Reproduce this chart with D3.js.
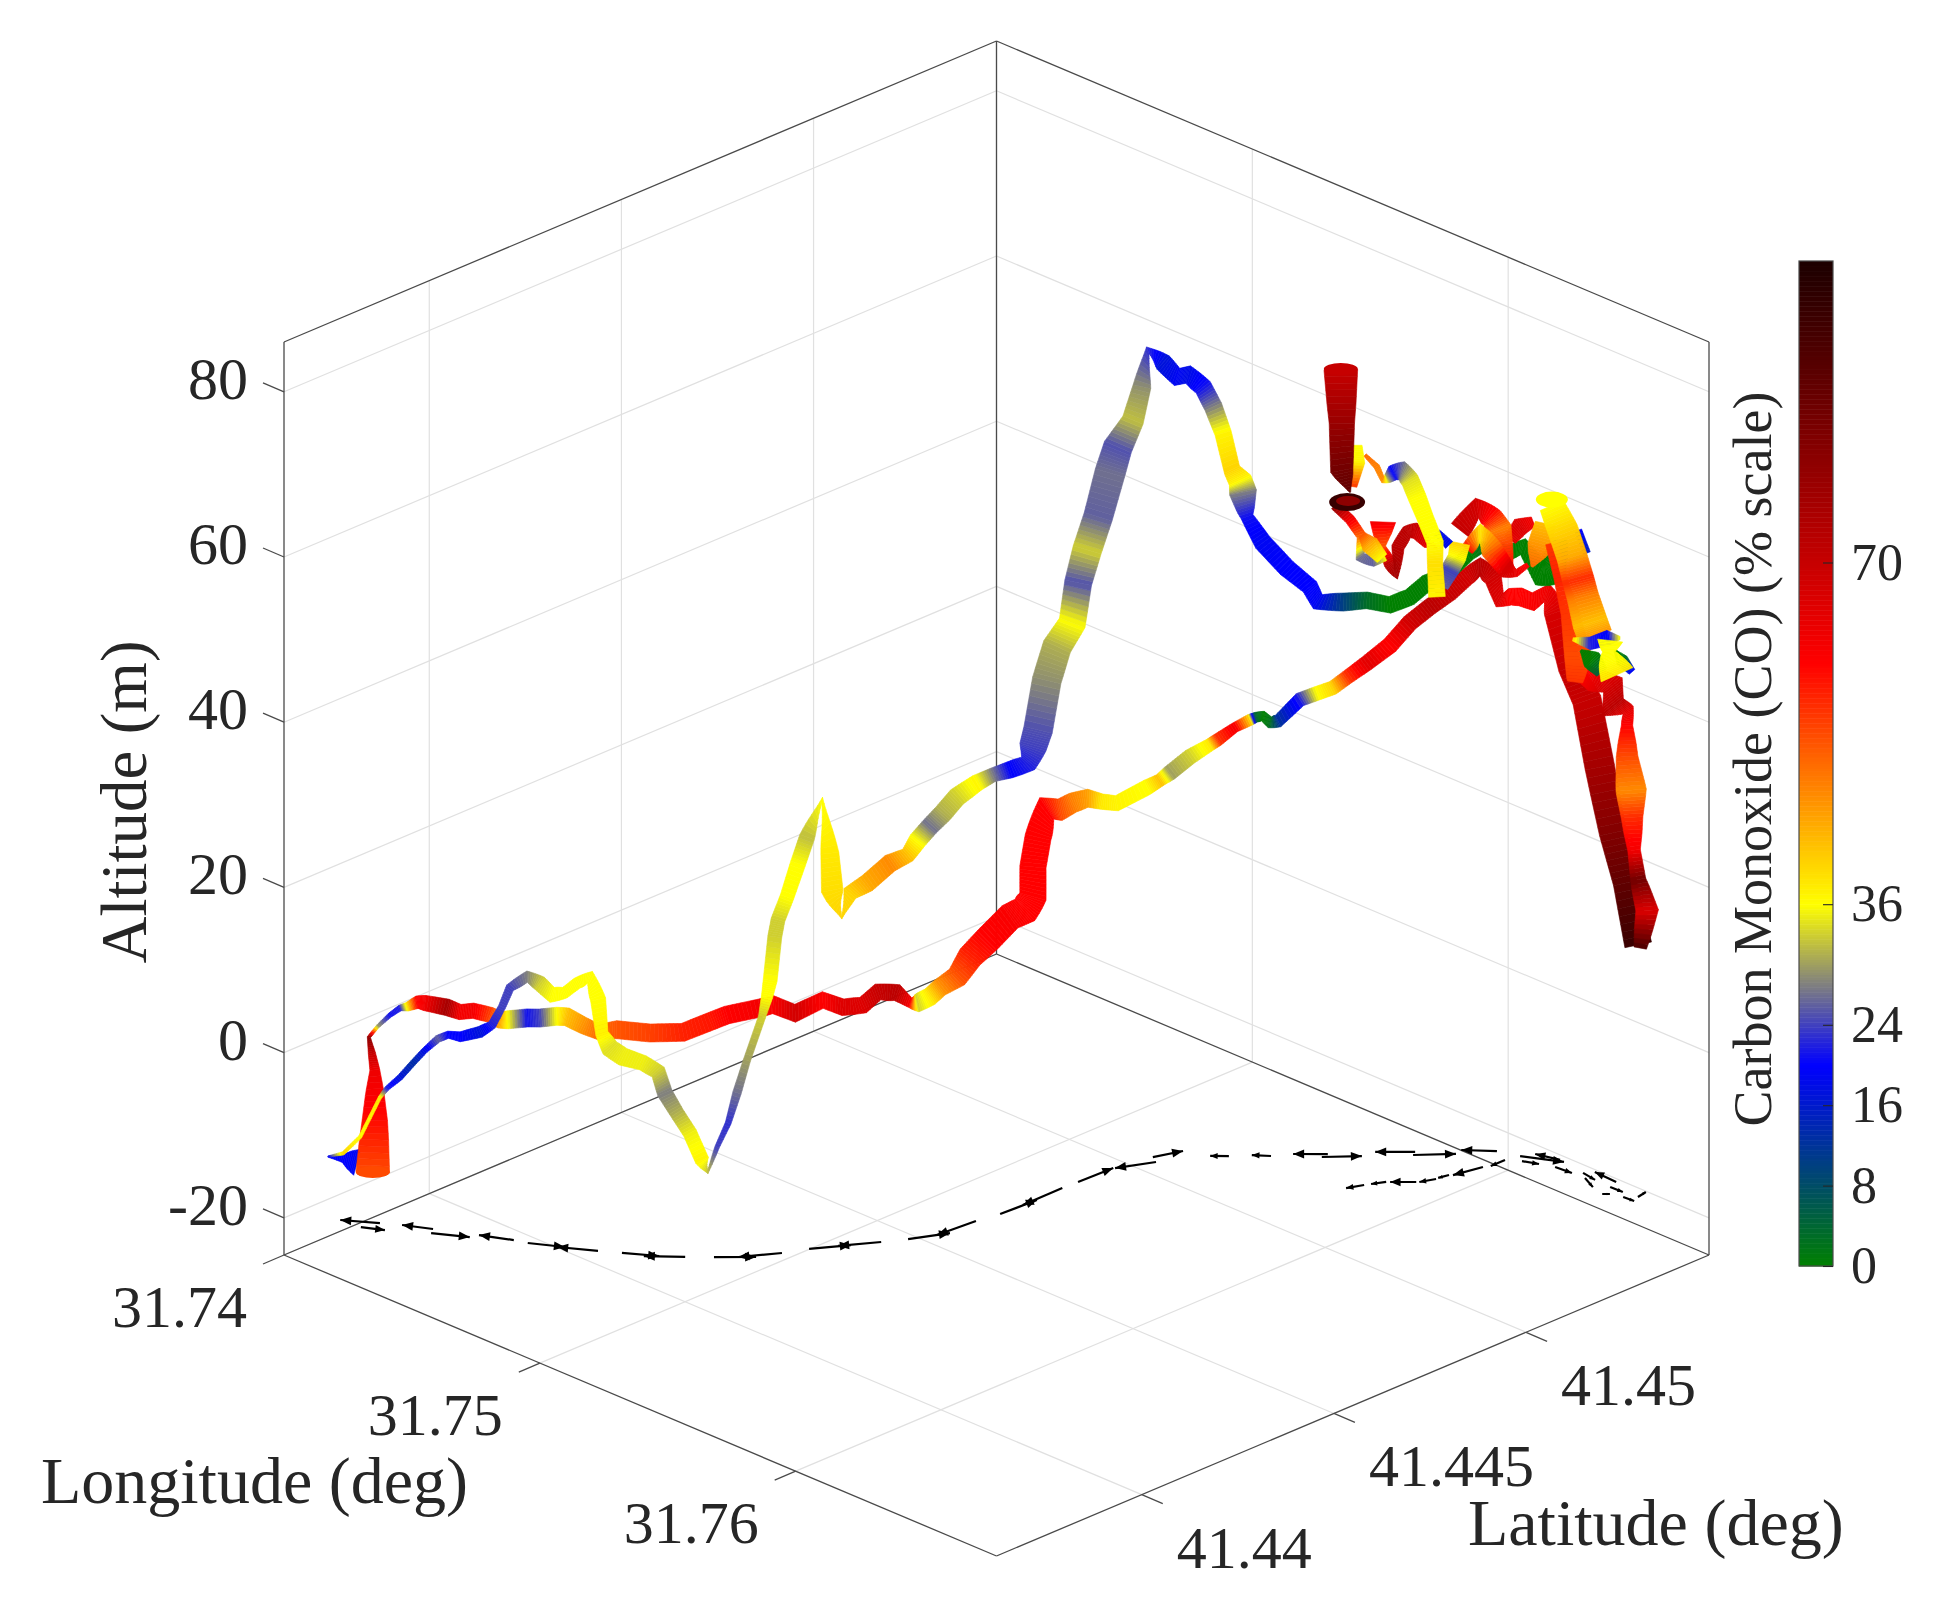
<!DOCTYPE html>
<html>
<head>
<meta charset="utf-8">
<script src="https://cdn.jsdelivr.net/npm/d3@7"></script>
<style>
body { margin: 0; background: #fff; }
text { font-family: "Liberation Serif", serif; fill: #262626; }
</style>
</head>
<body>
<svg id="vis" width="1945" height="1618"></svg>
<script>
// axis limits and ticks
var lonLimits = [31.74, 31.76785];
var latLimits = [41.43622, 41.45476];
var altLimits = [-24.5, 86.03];
var coLimits = [0, 100];
var lonTicks = [31.74, 31.75, 31.76];
var latTicks = [41.44, 41.445, 41.45];
var altTicks = [-20, 0, 20, 40, 60, 80];
var coTicks = [0, 8, 16, 24, 36, 70];

// colour map of the bar: value -> colour
var coStops = [0, 20, 36, 60, 100];
var coColors = ["#008000", "#0000ff", "#ffff00", "#ff0000", "#1c0000"];

// flight track, one line per leg
var legSizes = [3, 90, 13, 100, 2, 3, 6, 6, 4, 2, 9, 6, 3, 12, 3, 2, 3, 5, 7, 4, 3, 3, 4, 4];

var lon = [
31.73921,31.73955,31.73989,
31.74027,31.74032,31.74032,31.74025,31.74018,31.74039,31.74068,31.74093,31.74109,31.74134,31.74153,31.74212,31.74248,31.74283,31.74323,31.74347,31.74366,31.74414,31.74447,31.74491,31.74517,31.74557,31.74594,31.74640,31.74720,31.74789,31.74842,31.74875,31.74934,31.74952,31.74981,31.75020,31.75051,31.75080,31.75102,31.75127,31.75145,31.75153,31.75168,31.75180,31.75187,31.75193,31.75202,31.75211,31.75212,31.75212,31.75212,31.75211,31.75209,31.75207,31.75211,31.75212,31.75209,31.75223,31.75262,31.75273,31.75274,31.75296,31.75352,31.75367,31.75401,31.75430,31.75441,31.75453,31.75465,31.75479,31.75518,31.75553,31.75585,31.75614,31.75652,31.75691,31.75725,31.75763,31.75802,31.75835,31.75859,31.75883,31.75895,31.75927,31.75958,31.75991,31.76027,31.76050,31.76091,31.76150,31.76199,31.76253,31.76314,31.76385,
31.76396,31.76426,31.76385,31.76363,31.76352,31.76347,31.76325,31.76325,31.76331,31.76253,31.76253,31.76171,31.76136,
31.73921,31.73955,31.73996,31.74044,31.74061,31.74093,31.74124,31.74153,31.74187,31.74215,31.74248,31.74299,31.74328,31.74352,31.74371,31.74414,31.74447,31.74479,31.74512,31.74542,31.74574,31.74594,31.74604,31.74623,31.74655,31.74703,31.74737,31.74751,31.74776,31.74803,31.74826,31.74838,31.74856,31.74877,31.74895,31.74914,31.74937,31.74943,31.74948,31.74954,31.74959,31.74970,31.74985,31.74996,31.75019,31.75031,31.75034,31.75049,31.75061,31.75086,31.75118,31.75142,31.75154,31.75168,31.75182,31.75187,31.75196,31.75205,31.75211,31.75213,31.75212,31.75211,31.75209,31.75207,31.75211,31.75213,31.75212,31.75210,31.75214,31.75224,31.75244,31.75255,31.75263,31.75273,31.75275,31.75290,31.75332,31.75358,31.75377,31.75395,31.75410,31.75416,31.75424,31.75453,31.75495,31.75539,31.75555,31.75606,31.75652,31.75691,31.75725,31.75757,31.75802,31.75840,31.75859,31.75927,31.75965,31.76009,31.76042,31.76055,
31.76119,31.76150,
31.75927,31.75958,31.75991,
31.75822,31.75853,31.75881,31.75892,31.75905,31.75920,
31.75835,31.75859,31.75881,31.75917,31.75948,31.75978,
31.75904,31.75913,31.75920,31.75921,
31.75899,31.75912,
31.75814,31.75812,31.75827,31.75838,31.75841,31.75858,31.75873,31.75888,31.75899,
31.75757,31.75773,31.75783,31.75782,31.75795,31.75815,
31.75783,31.75790,31.75812,
31.75786,31.75802,31.75814,31.75823,31.75832,31.75849,31.75864,31.75877,31.75885,31.75896,31.75896,31.75899,
31.75779,31.75779,31.75776,
31.76060,31.76060,
31.76022,31.76009,31.75988,
31.76040,31.76060,31.76091,31.76119,31.76108,
31.76040,31.76068,31.76098,31.76119,31.76136,31.76161,31.76178,
31.76101,31.76161,31.76232,31.76287,
31.76129,31.76168,31.76207,
31.76261,31.76298,31.76352,
31.76241,31.76236,31.76245,31.76271,
31.75765,31.75766,31.75766,31.75773
];

var lat = [
41.43789,41.43806,41.43820,
41.43835,41.43837,41.43837,41.43834,41.43831,41.43840,41.43852,41.43862,41.43869,41.43879,41.43887,41.43905,41.43915,41.43926,41.43943,41.43953,41.43961,41.43979,41.43990,41.44005,41.44014,41.44029,41.44044,41.44062,41.44095,41.44135,41.44170,41.44192,41.44239,41.44261,41.44299,41.44345,41.44377,41.44410,41.44434,41.44467,41.44489,41.44502,41.44525,41.44543,41.44583,41.44613,41.44651,41.44705,41.44743,41.44764,41.44764,41.44778,41.44802,41.44838,41.44869,41.44907,41.44945,41.44975,41.45028,41.45054,41.45079,41.45117,41.45132,41.45142,41.45164,41.45184,41.45192,41.45202,41.45212,41.45224,41.45255,41.45276,41.45296,41.45314,41.45340,41.45374,41.45403,41.45430,41.45456,41.45479,41.45497,41.45515,41.45524,41.45530,41.45535,41.45547,41.45559,41.45567,41.45576,41.45581,41.45582,41.45580,41.45571,41.45558,
41.45556,41.45554,41.45558,41.45562,41.45564,41.45565,41.45569,41.45569,41.45568,41.45580,41.45580,41.45583,41.45580,
41.43789,41.43806,41.43823,41.43842,41.43849,41.43862,41.43875,41.43887,41.43898,41.43906,41.43915,41.43933,41.43945,41.43955,41.43963,41.43979,41.43990,41.44001,41.44012,41.44024,41.44036,41.44044,41.44047,41.44055,41.44068,41.44088,41.44105,41.44113,41.44128,41.44144,41.44160,41.44167,41.44179,41.44194,41.44205,41.44218,41.44242,41.44251,41.44256,41.44264,41.44269,41.44285,41.44304,41.44320,41.44344,41.44356,41.44360,41.44375,41.44388,41.44416,41.44455,41.44485,41.44503,41.44525,41.44550,41.44583,41.44629,41.44664,41.44705,41.44751,41.44764,41.44778,41.44802,41.44830,41.44867,41.44881,41.44905,41.44935,41.44963,41.44977,41.45003,41.45019,41.45029,41.45062,41.45097,41.45116,41.45127,41.45136,41.45149,41.45160,41.45171,41.45175,41.45180,41.45202,41.45236,41.45267,41.45277,41.45309,41.45340,41.45374,41.45403,41.45426,41.45456,41.45483,41.45497,41.45530,41.45538,41.45553,41.45564,41.45569,
41.45579,41.45581,
41.45530,41.45535,41.45547,
41.45469,41.45493,41.45513,41.45522,41.45526,41.45529,
41.45479,41.45497,41.45513,41.45528,41.45533,41.45542,
41.45368,41.45383,41.45396,41.45403,
41.45358,41.45381,
41.45274,41.45273,41.45284,41.45292,41.45295,41.45307,41.45318,41.45340,41.45358,
41.45187,41.45216,41.45240,41.45236,41.45261,41.45276,
41.45240,41.45256,41.45273,
41.45246,41.45266,41.45274,41.45281,41.45288,41.45300,41.45311,41.45321,41.45336,41.45355,41.45355,41.45358,
41.45230,41.45230,41.45222,
41.45571,41.45571,
41.45557,41.45553,41.45546,
41.45563,41.45571,41.45576,41.45579,41.45578,
41.45563,41.45573,41.45577,41.45579,41.45580,41.45582,41.45583,
41.45577,41.45582,41.45581,41.45576,
41.45579,41.45582,41.45582,
41.45580,41.45574,41.45564,
41.45581,41.45581,41.45581,41.45579,
41.45197,41.45199,41.45199,41.45216
];

var alt = [
-16.9,-17.0,-17.3,
-18.3,-12.0,-5.9,-3.9,-2.0,-0.6,0.9,1.9,2.1,2.8,2.8,2.7,2.4,2.8,2.5,2.0,2.1,2.6,2.8,3.3,3.4,2.6,2.0,2.5,2.5,2.7,4.0,4.8,5.5,5.7,4.3,5.5,4.4,4.4,5.8,5.4,4.0,3.8,4.3,5.2,5.8,7.7,9.1,11.0,11.1,12.3,15.9,19.2,22.2,21.3,21.6,21.4,20.2,19.6,21.0,21.5,21.9,23.4,25.3,25.9,27.4,28.3,28.6,28.7,27.9,28.0,30.5,31.3,32.0,33.3,35.0,37.0,39.6,41.5,43.2,45.1,46.3,44.9,42.2,42.9,43.2,42.8,44.1,41.9,35.6,32.3,24.8,17.6,12.5,6.2,
6.0,11.0,14.1,17.3,21.1,24.3,28.0,31.8,33.7,32.8,35.5,35.0,35.4,
-16.9,-16.4,-14.2,-9.2,-8.0,-6.5,-4.6,-2.9,-1.3,-0.6,-0.6,0.3,1.3,3.6,6.0,7.6,7.0,5.8,6.3,7.6,8.5,5.9,1.9,0.2,-0.7,-1.2,-2.2,-4.7,-7.1,-9.5,-12.8,-14.2,-11.2,-8.3,-4.6,-0.7,4.4,6.7,8.7,13.9,15.9,18.5,22.4,25.4,29.7,23.2,18.7,15.3,18.1,19.1,21.2,21.9,23.5,24.9,26.2,27.6,28.5,28.9,28.8,28.7,30.4,32.2,37.7,41.2,43.4,48.0,51.5,54.9,59.7,62.7,65.7,69.6,73.9,71.9,69.5,69.6,68.4,66.2,63.0,58.6,57.3,55.8,52.9,49.7,46.5,44.2,42.4,42.4,42.6,41.9,42.7,44.4,45.7,48.0,48.6,48.3,49.3,46.4,47.0,49.8,
52.5,50.1,
49.8,51.7,52.5,
50.8,53.4,52.2,50.7,48.4,45.7,
48.4,50.4,48.3,46.1,46.0,47.2,
47.0,48.9,50.2,51.8,
53.7,51.9,
55.5,52.5,50.5,49.3,52.4,54.2,54.4,52.6,51.9,
58.5,56.4,54.0,51.6,50.9,51.5,
54.2,52.8,51.1,
63.8,62.2,60.6,60.8,61.4,61.7,60.5,58.4,55.8,52.5,50.0,45.9,
65.2,63.1,60.3,
50.7,48.3,
52.5,49.6,47.0,
50.2,46.2,42.2,37.2,34.0,
54.8,52.0,49.0,46.5,44.6,41.8,40.4,
39.1,39.3,40.9,41.7,
38.1,37.4,36.4,
39.8,39.2,38.7,
40.7,39.3,38.2,37.0,
74.8,68.3,62.6,59.7
];

var co = [
20,20,19,
53,59,63,70,80,30,21,22,37,60,62,76,62,62,54,45,36,21,24,36,42,46,50,52,54,57,58,60,62,61,68,60,66,66,70,72,62,33,38,46,52,57,60,61,60,60,60,60,60,53,48,45,38,37,36,42,30,33,38,55,62,40,4,0,2,12,22,36,40,55,65,60,68,72,70,68,72,68,66,60,60,61,63,67,70,70,76,82,88,95,
92,66,85,62,56,47,53,60,65,72,68,64,60,
20,40,36,38,22,17,13,18,26,20,20,17,22,24,24,28,33,36,36,36,36,36,37,34,35,35,33,28,31,35,37,32,24,23,27,30,33,36,36,33,33,36,36,32,36,38,39,40,40,44,47,42,36,27,31,33,37,28,20,22,24,25,29,31,36,25,33,26,27,25,32,29,23,17,19,18,21,28,37,40,37,28,21,19,20,20,19,10,3,0,0,0,0,0,2,0,0,0,0,0,
20,15,
65,66,62,
70,68,58,48,55,60,
60,38,50,68,64,60,
26,24,36,40,
18,18,
62,52,72,76,72,72,70,65,60,
80,62,50,27,26,36,
52,44,36,
50,48,47,30,20,27,34,36,36,36,39,37,
36,37,55,
0,18,
42,46,50,
55,57,55,53,55,
36,40,44,56,48,42,46,
40,22,19,36,
0,0,5,
0,2,20,
36,36,36,38,
70,78,85,88
];

// ribbon spread along the track
var spread = [
1,7,24,
33,22,8,6,3,3,4,5,7,10,12,13,12,12,12,13,14,14,14,14,14,13,12,14,14,14,14,14,14,14,14,13,13,13,13,13,8,14,14,14,18,22,24,24,26,24,23,23,22,18,16,14,12,12,12,10,12,12,10,10,8,9,8,8,9,10,11,11,11,11,12,13,13,13,13,13,14,14,12,13,14,14,14,20,20,26,27,24,20,24,
10,19,12,10,18,28,18,9,10,24,20,20,14,
1,3,3,3,4,5,5,5,6,6,8,9,7,6,7,9,12,12,9,9,10,12,10,14,14,12,12,12,11,11,11,3,4,5,7,6,6,9,11,11,11,11,12,12,5,14,18,3,12,14,14,12,14,14,15,15,13,11,13,14,24,26,26,26,24,24,26,26,28,26,18,14,6,14,14,14,14,14,13,13,20,24,10,14,14,13,13,14,13,13,13,13,11,11,10,12,13,22,30,12,
6,6,
10,14,8,
18,16,18,24,16,8,
10,14,18,14,6,4,
10,14,14,16,
6,8,
22,6,10,10,10,10,12,8,2,
8,8,8,8,10,10,
6,14,10,
3,5,5,8,12,14,14,14,13,13,12,13,
8,12,6,
12,12,
16,22,2,
10,10,14,24,12,
22,28,28,30,30,35,35,
3,10,12,3,
2,16,10,
2,10,6,
22,10,22,35,
33,22,19,1
];

// round ends of the ribbon
var capLon = [31.76040, 31.75765, 31.74027, 31.75770];
var capLat = [41.45563, 41.45197, 41.43835, 41.45210];
var capAlt = [55.5, 74.9, -18.3, 58.6];
var capCo = [36, 70, 53, 95];

// wind arrows on the floor
var windLon0 = [31.74040,31.74021,31.74171,31.74186,31.74380,31.74421,31.74595,31.74651,31.74793,31.74850,31.74964,31.74998,31.75107,31.75146,31.75195,31.75210,31.75211,31.75214,31.75274,31.75245,31.75389,31.75471,31.75573,31.75575,31.75734,31.75744,31.75890,31.75958,31.76054,31.75985,31.76077,31.76266,31.76159,31.76186,31.76277,31.76294,31.76349,31.76378,31.75947,31.75936,31.75907,31.75900,31.75875,31.75816,31.75787];
var windLat0 = [41.43845,41.43808,41.43896,41.43881,41.43967,41.43976,41.44043,41.44068,41.44138,41.44175,41.44276,41.44324,41.44439,41.44483,41.44627,41.44680,41.44841,41.44880,41.45043,41.45054,41.45156,41.45211,41.45291,41.45274,41.45411,41.45399,41.45520,41.45535,41.45575,41.45522,41.45547,41.45580,41.45565,41.45552,41.45557,41.45525,41.45543,41.45562,41.45503,41.45453,41.45384,41.45355,41.45320,41.45281,41.45243];
var windLon1 = [31.73948,31.74082,31.74092,31.74280,31.74289,31.74512,31.74497,31.74738,31.74708,31.74932,31.74897,31.75062,31.75041,31.75200,31.75184,31.75217,31.75213,31.75218,31.75222,31.75276,31.75352,31.75429,31.75505,31.75649,31.75656,31.75823,31.75815,31.76071,31.75978,31.76032,31.76138,31.76178,31.76215,31.76244,31.76325,31.76309,31.76389,31.76370,31.75947,31.75915,31.75899,31.75881,31.75824,31.75796,31.75766];
var windLat1 = [41.43803,41.43830,41.43868,41.43919,41.43937,41.44012,41.44002,41.44107,41.44087,41.44230,41.44207,41.44390,41.44371,41.44556,41.44533,41.44771,41.44737,41.44969,41.44971,41.45112,41.45132,41.45189,41.45246,41.45329,41.45359,41.45458,41.45477,41.45574,41.45561,41.45535,41.45550,41.45583,41.45559,41.45534,41.45558,41.45535,41.45545,41.45588,41.45466,41.45389,41.45361,41.45324,41.45286,41.45255,41.45210];

var svg = d3.select("#vis");
var gridColor = "#e0e0e0";
var boxColor = "#4a4a4a";
var textColor = "#262626";

// 3d view: longitude runs down to the right, latitude up to the right
var uScale = d3.scaleLinear().domain(lonLimits).range([0, 1]);
var vScale = d3.scaleLinear().domain(latLimits).range([0, 1]);
var zScale = d3.scaleLinear().domain(altLimits).range([0, 913]);
var xScreen = d3.scaleLinear().domain([0, 2]).range([284, 1709]);
var yScreen = d3.scaleLinear().domain([-1, 1]).range([954, 1556]);
var coColor = d3.scaleLinear().domain(coStops).range(coColors).clamp(true);
var spreadScale = d3.scaleLinear().domain([0, 4, 14, 26, 35]).range([0, 4.5, 18, 29, 35]);

var project = function(lo, la, al) {
    var u = uScale(lo), v = vScale(la);
    return [xScreen(u + v), yScreen(u - v) - zScale(al)];
}

var drawLine = function(g, a, b, color, width) {
    g.append("line")
        .attr("x1", a[0]).attr("y1", a[1])
        .attr("x2", b[0]).attr("y2", b[1])
        .attr("stroke", color)
        .attr("stroke-width", width);
}

// 网格
var render_grid = function() {
    var g = svg.append("g");
    var lo0 = lonLimits[0], lo1 = lonLimits[1], la0 = latLimits[0], la1 = latLimits[1], z0 = altLimits[0], z1 = altLimits[1];
    altTicks.forEach(function(t) {
        drawLine(g, project(lo0, la0, t), project(lo0, la1, t), gridColor, 1.2);
        drawLine(g, project(lo0, la1, t), project(lo1, la1, t), gridColor, 1.2);
    });
    latTicks.forEach(function(t) {
        drawLine(g, project(lo0, t, z0), project(lo0, t, z1), gridColor, 1.2);
        drawLine(g, project(lo0, t, z0), project(lo1, t, z0), gridColor, 1.2);
    });
    lonTicks.forEach(function(t) {
        drawLine(g, project(t, la1, z0), project(t, la1, z1), gridColor, 1.2);
        drawLine(g, project(t, la0, z0), project(t, la1, z0), gridColor, 1.2);
    });
    // box edges
    [[lo0, la0, lo0, la1, z0, z0], [lo0, la1, lo1, la1, z0, z0], [lo0, la0, lo1, la0, z0, z0], [lo1, la0, lo1, la1, z0, z0],
     [lo0, la0, lo0, la1, z1, z1], [lo0, la1, lo1, la1, z1, z1],
     [lo0, la0, lo0, la0, z0, z1], [lo0, la1, lo0, la1, z0, z1], [lo1, la1, lo1, la1, z0, z1]].forEach(function(e) {
        drawLine(g, project(e[0], e[1], e[4]), project(e[2], e[3], e[5]), boxColor, 1.3);
    });
}

var render_ticks = function() {
    var g = svg.append("g");
    var lo0 = lonLimits[0], lo1 = lonLimits[1], la0 = latLimits[0], z0 = altLimits[0];
    altTicks.forEach(function(t) {
        var p = project(lo0, la0, t);
        drawLine(g, p, [p[0] - 21, p[1] - 9], boxColor, 1.3);
        g.append("text").attr("x", p[0] - 36).attr("y", p[1] - 13)
            .attr("text-anchor", "end").attr("dominant-baseline", "central")
            .style("font-size", "60px").text(t);
    });
    lonTicks.forEach(function(t) {
        var p = project(t, la0, z0);
        drawLine(g, p, [p[0] - 21, p[1] + 9], boxColor, 1.3);
        g.append("text").attr("x", p[0] - 37).attr("y", p[1] + 52)
            .attr("text-anchor", "end").attr("dominant-baseline", "central")
            .style("font-size", "60px").text(d3.format(".2f")(t));
    });
    latTicks.forEach(function(t) {
        var p = project(lo1, t, z0);
        drawLine(g, p, [p[0] + 21, p[1] + 9], boxColor, 1.3);
        g.append("text").attr("x", p[0] + 35).attr("y", p[1] + 53)
            .attr("text-anchor", "start").attr("dominant-baseline", "central")
            .style("font-size", "60px").text(t);
    });
    g.append("text").attr("x", 468).attr("y", 1503).attr("text-anchor", "end")
        .style("font-size", "66px").text("Longitude (deg)");
    g.append("text").attr("x", 1468).attr("y", 1545).attr("text-anchor", "start")
        .style("font-size", "66px").text("Latitude (deg)");
    g.append("text").attr("transform", "translate(146,802) rotate(-90)").attr("text-anchor", "middle")
        .style("font-size", "65px").text("Altitude (m)");
}

var render_wind = function() {
    var g = svg.append("g");
    var z0 = altLimits[0];
    var poly = d3.line();
    windLon0.forEach(function(d, i) {
        var a = project(windLon0[i], windLat0[i], z0);
        var b = project(windLon1[i], windLat1[i], z0);
        drawLine(g, a, b, "#000", 2.2);
        var dx = b[0] - a[0], dy = b[1] - a[1], n = Math.sqrt(dx * dx + dy * dy);
        dx /= n; dy /= n;
        var size = Math.min(11, n * 0.4);
        var mid = [b[0] - dx * size, b[1] - dy * size];
        g.append("path")
            .attr("d", poly([b, [mid[0] - dy * size * 0.4, mid[1] + dx * size * 0.4], [mid[0] + dy * size * 0.4, mid[1] - dx * size * 0.4]]) + "Z")
            .attr("fill", "#000");
    });
}

// 绘制带状轨迹
var render_ribbon = function() {
    var g = svg.append("g");
    var poly = d3.line();
    var start = 0;
    legSizes.forEach(function(size) {
        var idx = d3.range(start, start + size);
        start += size;
        var pts = idx.map(i => project(lon[i], lat[i], alt[i]));
        var normals = pts.map(function(p, k) {
            var a = pts[Math.max(k - 1, 0)], b = pts[Math.min(k + 1, pts.length - 1)];
            var t0 = unit(p[0] - a[0], p[1] - a[1]), t1 = unit(b[0] - p[0], b[1] - p[1]);
            var s = unit(t0[0] + t1[0], t0[1] + t1[1]);
            if (s[0] === 0 && s[1] === 0) s = t1;
            return [-s[1], s[0]];
        });
        for (var k = 0; k < pts.length - 1; k++) {
            var i0 = idx[k], i1 = idx[k + 1];
            var steps = 8;
            for (var s = 0; s < steps; s++) {
                var t0 = s / steps, t1 = (s + 1) / steps;
                var c0 = edge(pts[k], pts[k + 1], normals[k], normals[k + 1], spread[i0], spread[i1], t0);
                var c1 = edge(pts[k], pts[k + 1], normals[k], normals[k + 1], spread[i0], spread[i1], t1);
                var col = coColor(d3.interpolateNumber(co[i0], co[i1])((t0 + t1) / 2));
                g.append("path")
                    .attr("d", poly([c0[0], c0[1], c1[1], c1[0]]) + "Z")
                    .attr("fill", col)
                    .attr("stroke", col)
                    .attr("stroke-width", 0.6);
            }
        }
    });
    // round ends
    var capRx = [16, 17, 17, 18], capRy = [8, 6, 6, 9];
    capLon.forEach(function(d, i) {
        var p = project(capLon[i], capLat[i], capAlt[i]);
        g.append("ellipse").attr("cx", p[0]).attr("cy", p[1]).attr("rx", capRx[i]).attr("ry", capRy[i]).attr("fill", coColor(capCo[i]));
    });
    var last = project(capLon[3], capLat[3], capAlt[3]);
    g.append("ellipse").attr("cx", last[0] + 1).attr("cy", last[1] - 1).attr("rx", 12).attr("ry", 5).attr("fill", coColor(80));
}

var unit = function(x, y) {
    var n = Math.sqrt(x * x + y * y);
    return n < 1e-6 ? [0, 0] : [x / n, y / n];
}

var edge = function(a, b, na, nb, wa, wb, t) {
    var w = spreadScale(wa + (wb - wa) * t) / 2;
    var x = a[0] + (b[0] - a[0]) * t, y = a[1] + (b[1] - a[1]) * t;
    var nx = na[0] + (nb[0] - na[0]) * t, ny = na[1] + (nb[1] - na[1]) * t;
    var n = unit(nx, ny);
    if (n[0] === 0 && n[1] === 0) n = na;
    return [[x + n[0] * w, y + n[1] * w], [x - n[0] * w, y - n[1] * w]];
}

// 颜色条
var render_colorbar = function() {
    var g = svg.append("g");
    var barY = d3.scaleLinear().domain(coLimits).range([1266, 261]);
    d3.range(0, 100, 0.25).forEach(function(v) {
        g.append("rect")
            .attr("x", 1799).attr("width", 34)
            .attr("y", barY(v + 0.25)).attr("height", barY(v) - barY(v + 0.25) + 0.5)
            .attr("fill", coColor(v + 0.125));
    });
    g.append("rect").attr("x", 1799).attr("y", 261).attr("width", 34).attr("height", 1005)
        .attr("fill", "none").attr("stroke", boxColor).attr("stroke-width", 1.2);
    var axis = d3.axisRight(barY).tickValues(coTicks).tickSize(-10).tickPadding(18).tickFormat(d3.format("d"));
    var ax = g.append("g").attr("transform", "translate(1833,0)").call(axis);
    ax.select(".domain").remove();
    ax.selectAll("line").attr("stroke", textColor).attr("stroke-width", 1.1);
    ax.selectAll("text").style("font-family", '"Liberation Serif", serif').style("font-size", "52px").attr("fill", textColor);
    g.append("text").attr("transform", "translate(1771,759) rotate(-90)").attr("text-anchor", "middle")
        .style("font-size", "54px").text("Carbon Monoxide (CO) (% scale)");
}

render_grid();
render_ticks();
render_wind();
render_ribbon();
render_colorbar();
</script>
</body>
</html>
